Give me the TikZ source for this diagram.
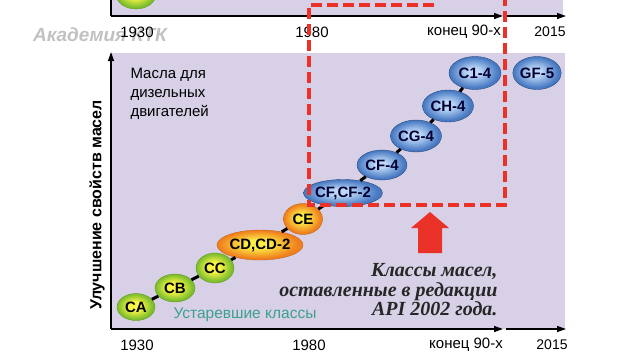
\documentclass[tikz,border=0pt]{standalone}
\usepackage{fontspec}
\setmainfont{Liberation Sans}
\newfontfamily\notefont{Liberation Serif}
\usetikzlibrary{shapes.geometric, arrows.meta}

\definecolor{lilac}{RGB}{216,208,230}
\definecolor{alarm}{RGB}{234,50,40}
\definecolor{oldtext}{RGB}{60,160,140}
\definecolor{greenin}{RGB}{250,246,70}
\definecolor{greenout}{RGB}{125,190,45}
\definecolor{orangein}{RGB}{252,236,70}
\definecolor{orangeout}{RGB}{240,128,30}
\definecolor{bluein}{RGB}{190,216,246}
\definecolor{blueout}{RGB}{72,122,196}

\pgfdeclareradialshading{greenball}{\pgfpoint{-2bp}{2bp}}{color(0bp)=(greenin); color(8bp)=(greenin); color(23bp)=(greenout); color(50bp)=(greenout)}
\pgfdeclareradialshading{orangeball}{\pgfpoint{-2bp}{2bp}}{color(0bp)=(orangein); color(7bp)=(orangein); color(23bp)=(orangeout); color(50bp)=(orangeout)}
\pgfdeclareradialshading{blueball}{\pgfpoint{-2bp}{2bp}}{color(0bp)=(bluein); color(6bp)=(bluein); color(23bp)=(blueout); color(50bp)=(blueout)}

\begin{document}
\begin{tikzpicture}[x=1pt, y=-1pt,
    cls/.style={ellipse, inner sep=0pt, shade, font=\fontsize{15}{15}\selectfont\bfseries},
    greencls/.style={cls, shading=greenball, draw=greenout!80!black},
    orangecls/.style={cls, shading=orangeball, draw=orangeout!80!black},
    bluecls/.style={cls, shading=blueball, draw=blueout!60!black, text=blue!20!black},
    link/.style={line width=3pt, black},
    axis/.style={line width=1.3pt, -{Triangle[length=9pt,width=6pt]}},
    year/.style={font=\fontsize{15}{15}\selectfont},
    redbox/.style={alarm, line width=3.5pt, dash pattern=on 11pt off 5pt}]
  \useasboundingbox (0, 0) rectangle (640, 360);
  \clip (0, 0) rectangle (640, 360);

  % previous panel, cut at the top

    \fill[lilac] (111, -10) rectangle (563, 16);
    \node[greencls, minimum width=40, minimum height=30] at (136, -6) (topCA) {};
    \node[rotate=90, font=\fontsize{16}{16}\selectfont\bfseries] at (97, -108) (toplab) {Улучшение свойств масел};
    \draw[line width=1.3pt] (111, -10) -- (111, 16);
    \draw[axis] (111, 16) -- (503, 16);
    \draw[axis] (506, 16) -- (566, 16);

    % watermark
    \node[font=\fontsize{19}{19}\selectfont\bfseries\itshape, text=gray!60, opacity=0.8] at (100, 35) (mark) {Академия КТК};

    \node[year] at (137, 32) (t1930) {1930};
    \node[year] at (312, 32) (t1980) {1980};
    \node[year] at (464, 32) (t90) {конец 90-х};
    \node[year, font=\fontsize{14}{14}\selectfont] at (550, 32) (t2015) {2015};

  % main panel

    \fill[lilac] (111, 53) rectangle (565, 329);
    \draw[axis] (111, 329) -- (111, 52);
    \draw[axis] (111, 329) -- (503, 329);
    \draw[axis] (506, 329) -- (566, 329);

    \node[rotate=90, font=\fontsize{16}{16}\selectfont\bfseries] at (97, 205) (ylab) {Улучшение свойств масел};

    \node[year] at (137, 345) (b1930) {1930};
    \node[year] at (309, 345) (b1980) {1980};
    \node[year] at (466, 345) (b90) {конец 90-х};
    \node[year, font=\fontsize{14}{14}\selectfont] at (552, 345) (b2015) {2015};

    \node[align=left, anchor=west, font=\fontsize{15}{19}\selectfont] at (127, 94) (diesel) {Масла для\\дизельных\\двигателей};

    % old classes
    \node[greencls, minimum width=38, minimum height=27] at (136, 307) (CA) {CA};
    \node[greencls, minimum width=40, minimum height=28] at (175, 288) (CB) {CB};
    \node[greencls, minimum width=38, minimum height=30] at (215, 268) (CC) {CC};
    \node[orangecls, minimum width=73, minimum height=30] at (260, 245) (CD) {CD,CD-2};
    \node[orangecls, minimum width=39, minimum height=31] at (303, 219) (CE) {CE};
    \node[font=\fontsize{15.5}{15.5}\selectfont, text=oldtext] at (245, 315) (old) {Устаревшие классы};

    % current classes
    \node[bluecls, minimum width=66, minimum height=27] at (343, 193) (CF) {CF,CF-2};
    \node[bluecls, minimum width=50, minimum height=30] at (382, 165) (CF4) {CF-4};
    \node[bluecls, minimum width=51, minimum height=32] at (416, 136) (CG) {CG-4};
    \node[bluecls, minimum width=51, minimum height=32] at (448, 106) (CH) {CH-4};
    \node[bluecls, minimum width=52, minimum height=33] at (475, 73) (C1) {C1-4};
    \node[bluecls, minimum width=44, minimum height=33] at (537, 73) (GF) {GF-5};

    \draw[link] (CA) -- (CB);
    \draw[link] (CB) -- (CC);
    \draw[link] (CC) -- (CD);
    \draw[link] (CD) -- (CE);
    \draw[link] (CE) -- (CF);
    \draw[link] (CF) -- (CF4);
    \draw[link] (CF4) -- (CG);
    \draw[link] (CG) -- (CH);
    \draw[link] (CH) -- (C1);

    % red frame and pointer
    \draw[redbox] (434, 5) -- (309, 5) -- (309, 205) -- (505, 205) -- (505, 0);
    \fill[alarm] (430, 212) -- (449, 228) -- (442, 228) -- (442, 253) -- (418, 253) -- (418, 228) -- (411, 228) -- cycle;

    \node[anchor=east, align=right, font=\notefont\fontsize{20}{19.5}\selectfont\bfseries\itshape, text=black!85] at (501, 290) (api) {Классы масел,\\оставленные в редакции\\API 2002 года.};
\end{tikzpicture}
\end{document}
